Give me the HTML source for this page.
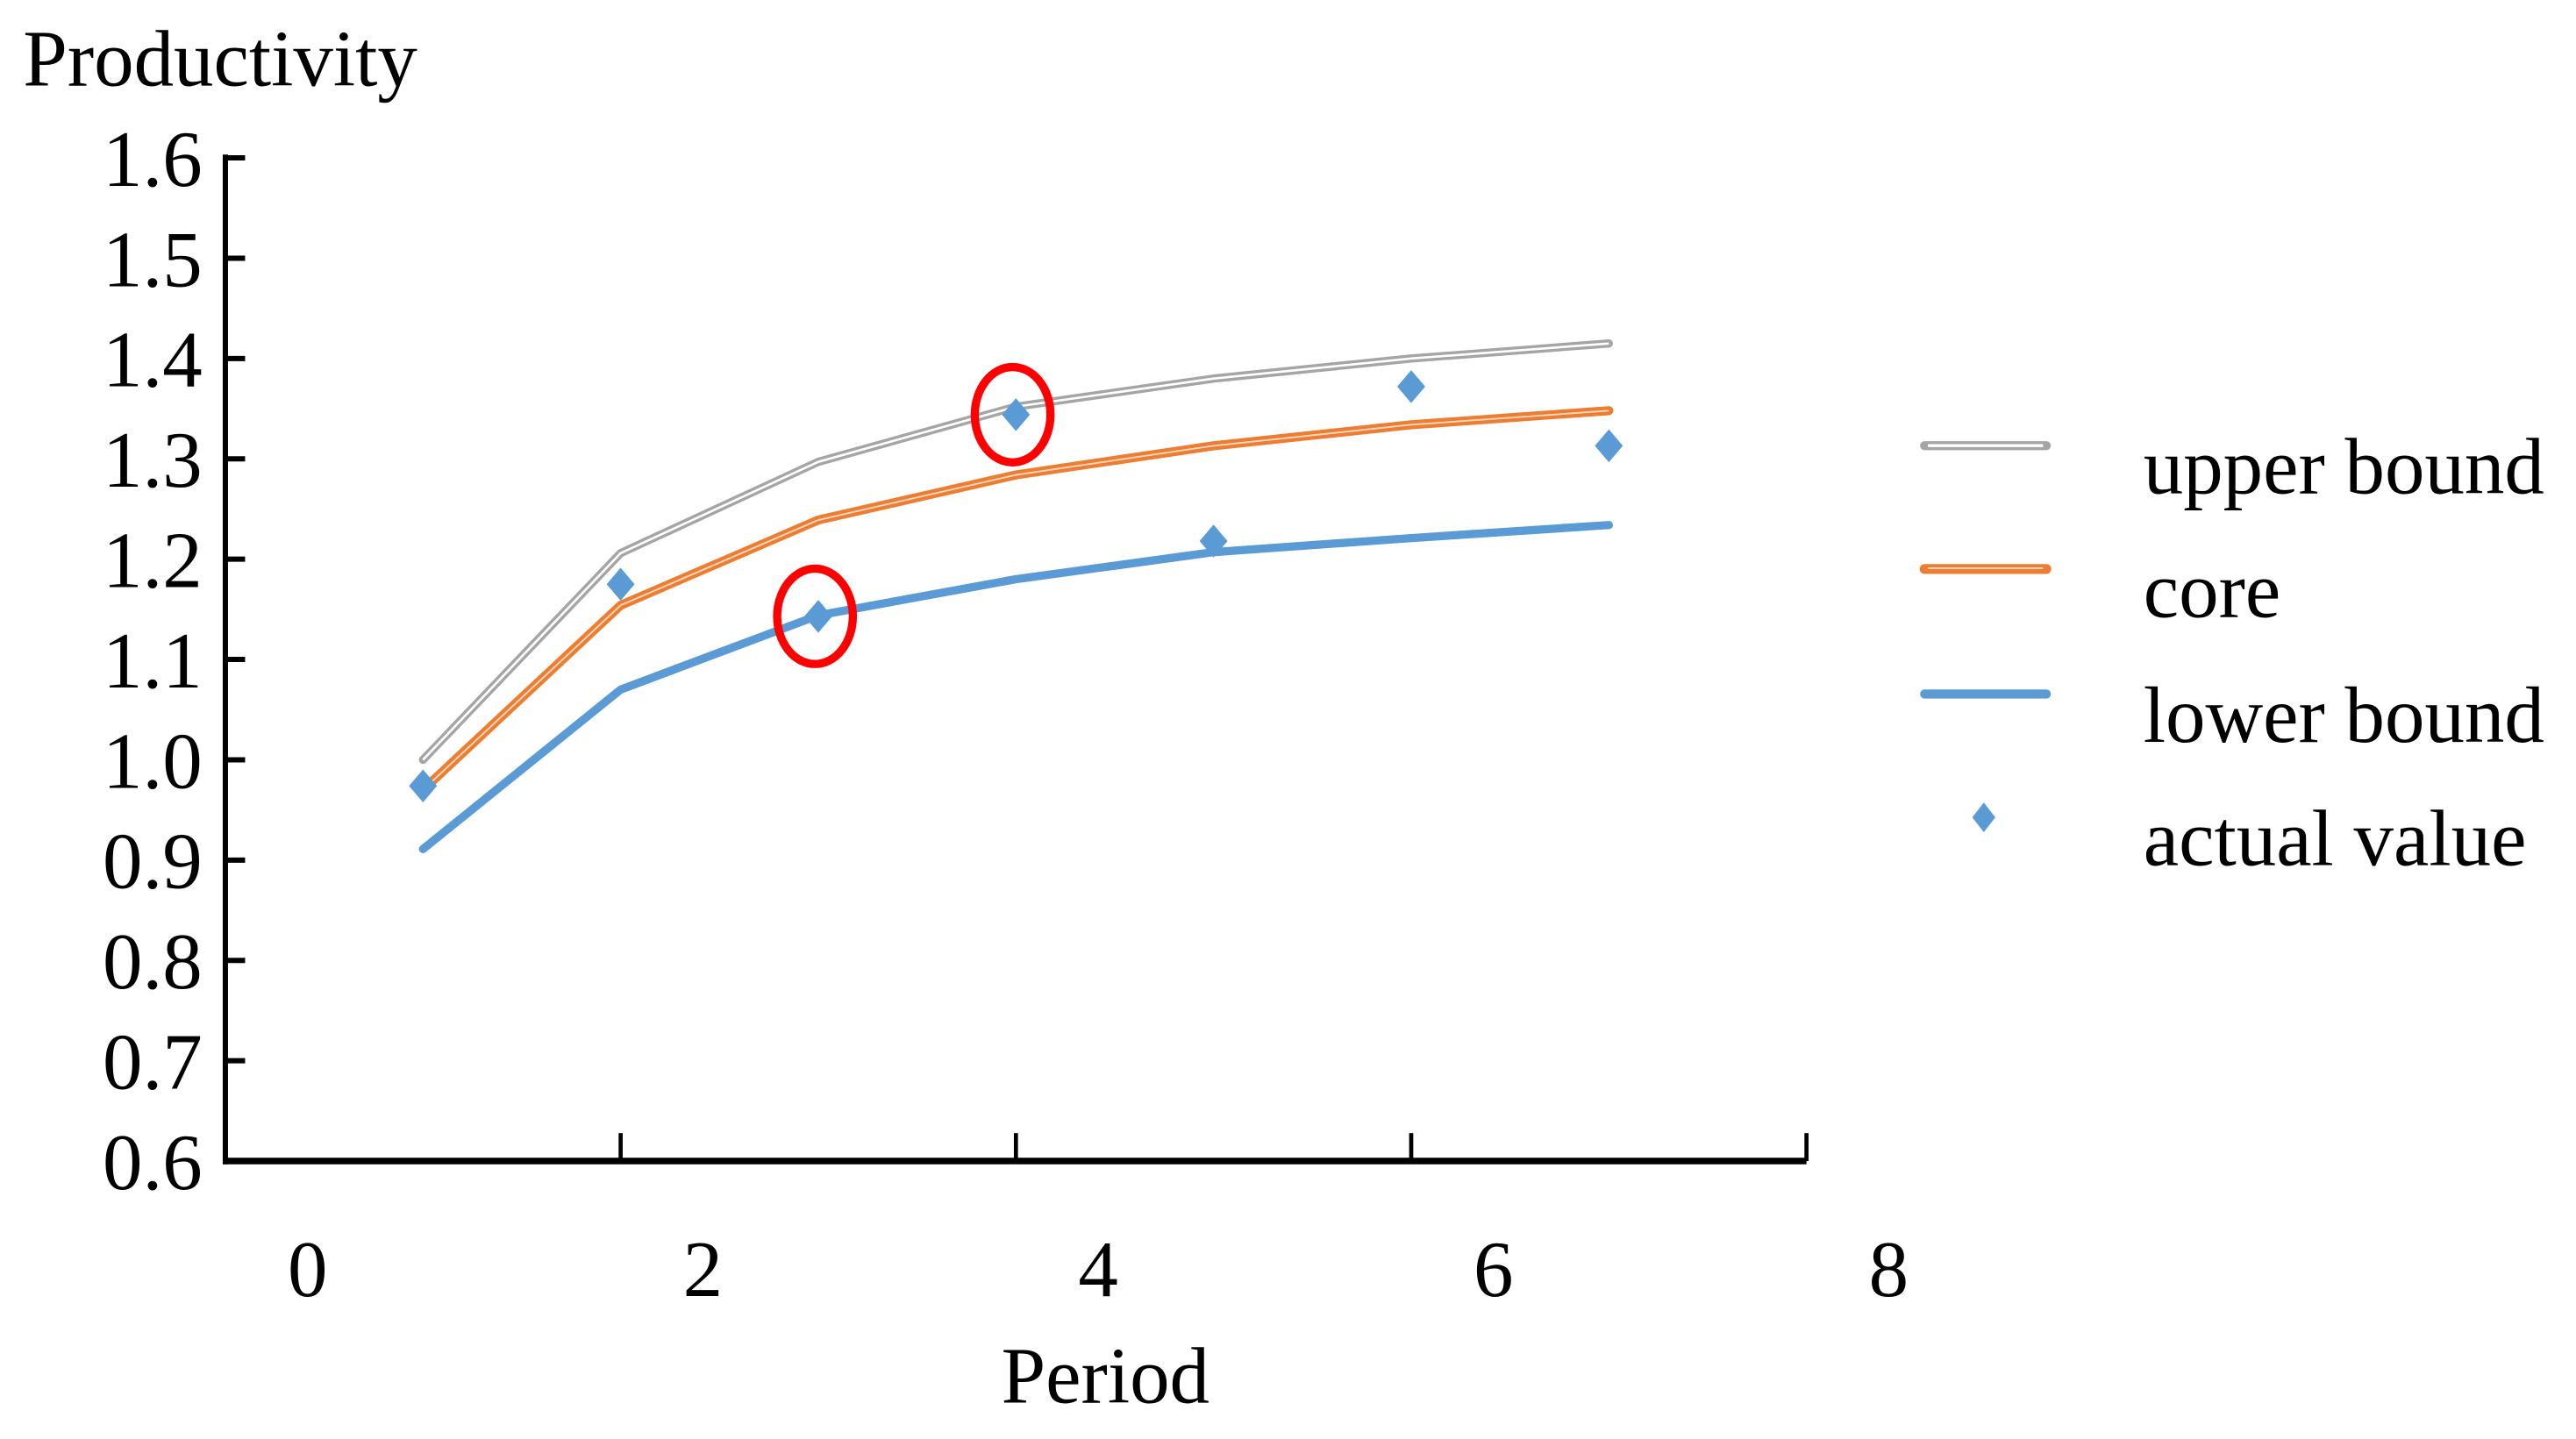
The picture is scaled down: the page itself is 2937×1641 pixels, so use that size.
<!DOCTYPE html>
<html><head><meta charset="utf-8"><style>
html,body{margin:0;padding:0;background:#fff;}
svg{display:block;}
text{font-family:"Liberation Serif",serif;fill:#000;}
</style></head><body>
<svg id="chart" width="2937" height="1641" viewBox="0 0 1566 875" preserveAspectRatio="none" xmlns="http://www.w3.org/2000/svg">
<text x="14" y="52" font-size="48.5">Productivity</text>
<text x="672" y="853" font-size="48.5" text-anchor="middle">Period</text>
<g id="axes"></g>
<g id="series"></g>
<g id="legend"></g>
</svg>
<script>
const periods = [1,2,3,4,5,6,7];
const upperBound = [1.000,1.206,1.297,1.352,1.380,1.400,1.415];
const core = [0.970,1.154,1.239,1.284,1.313,1.334,1.348];
const lowerBound = [0.911,1.070,1.144,1.180,1.207,1.221,1.234];
const actualValue = [0.974,1.175,1.143,1.344,1.218,1.372,1.313];
const highlighted = [3,4];
const yTicks = [0.6,0.7,0.8,0.9,1.0,1.1,1.2,1.3,1.4,1.5,1.6];
const xTickLabels = ["0","2","4","6","8"];

const NS="http://www.w3.org/2000/svg";
const X0=137, XSTEP=120.15, Y0=706, YTOP=96;
const xs = p => X0 + p*XSTEP;
const ys = v => Y0 - (v-0.6)/(1.0)*(Y0-YTOP);
function mk(tag, attrs, parent){const e=document.createElementNS(NS,tag);for(const k in attrs)e.setAttribute(k,attrs[k]);parent.appendChild(e);return e;}
const axes=document.getElementById('axes'), ser=document.getElementById('series'), leg=document.getElementById('legend');

let a=mk('line',{x1:X0,y1:YTOP-2,x2:X0,y2:Y0+2,stroke:'#000','stroke-width':3.2},axes);

a=mk('line',{x1:X0-1.5,y1:Y0,x2:xs(8),y2:Y0,stroke:'#000','stroke-width':4},axes);

yTicks.forEach(v=>{
  const t=mk('line',{x1:X0,y1:ys(v),x2:X0+12,y2:ys(v),stroke:'#000','stroke-width':3.2},axes);
  
  
  const l=mk('text',{x:123,y:ys(v)+17,'font-size':48.5,'text-anchor':'end'},axes);
  l.textContent=v.toFixed(1);
  
  
});
xTickLabels.forEach((s,i)=>{
  const p=Number(s);
  if(p>0){
    const t=mk('line',{x1:xs(p),y1:Y0,x2:xs(p),y2:Y0-17,stroke:'#000','stroke-width':2.5},axes);
    
    
  }
  const l=mk('text',{x:187+p*XSTEP,y:788,'font-size':48.5,'text-anchor':'middle'},axes);
  l.textContent=s;
  
  
});
function pts(arr){return arr.map((v,i)=>xs(periods[i])+','+ys(v)).join(' ');}
let g=mk('polyline',{points:pts(upperBound),fill:'none',stroke:'#a5a5a5','stroke-width':5,'stroke-linejoin':'round','stroke-linecap':'round'},ser);

g=mk('polyline',{points:pts(upperBound),fill:'none',stroke:'#fff','stroke-width':1.4,'stroke-linejoin':'round'},ser);

g=mk('polyline',{points:pts(core),fill:'none',stroke:'#ed7d31','stroke-width':5.5,'stroke-linejoin':'round','stroke-linecap':'round'},ser);

g=mk('polyline',{points:pts(core),fill:'none',stroke:'#fbd9c2','stroke-width':1,'stroke-linejoin':'round'},ser);

g=mk('polyline',{points:pts(lowerBound),fill:'none',stroke:'#5b9bd5','stroke-width':5,'stroke-linejoin':'round','stroke-linecap':'round'},ser);

actualValue.forEach((v,i)=>{
  const x=xs(periods[i]), y=ys(v);
  const d=mk('polygon',{points:`${x},${y-10} ${x+8.5},${y} ${x},${y+10} ${x-8.5},${y}`,fill:'#5b9bd5'},ser);
  
  
});
highlighted.forEach(p=>{
  const i=periods.indexOf(p);
  const c=mk('ellipse',{cx:xs(p)-2,cy:ys(actualValue[i]),rx:23,ry:29,fill:'none',stroke:'#ff0000','stroke-width':5},ser);
  
  
});
// legend
const LY=[271,346,422,497];
let l;
l=mk('line',{x1:1170,y1:LY[0],x2:1244,y2:LY[0],stroke:'#a5a5a5','stroke-width':5.5,'stroke-linecap':'round'},leg);

l=mk('line',{x1:1172,y1:LY[0],x2:1242,y2:LY[0],stroke:'#fff','stroke-width':1.8},leg);

l=mk('line',{x1:1170,y1:LY[1],x2:1244,y2:LY[1],stroke:'#ed7d31','stroke-width':6,'stroke-linecap':'round'},leg);

l=mk('line',{x1:1172,y1:LY[1]-0.5,x2:1242,y2:LY[1]-0.5,stroke:'#fbd9c2','stroke-width':1},leg);

l=mk('line',{x1:1170,y1:LY[2],x2:1244,y2:LY[2],stroke:'#5b9bd5','stroke-width':5.5,'stroke-linecap':'round'},leg);

l=mk('polygon',{points:`1206,${LY[3]-9} 1213,${LY[3]} 1206,${LY[3]+9} 1199,${LY[3]}`,fill:'#5b9bd5'},leg);

["upper bound","core","lower bound","actual value"].forEach((s,i)=>{
  const t=mk('text',{x:1303,y:LY[i]+29,'font-size':48.5},leg);
  t.textContent=s;
  
  
});
</script>
</body></html>
